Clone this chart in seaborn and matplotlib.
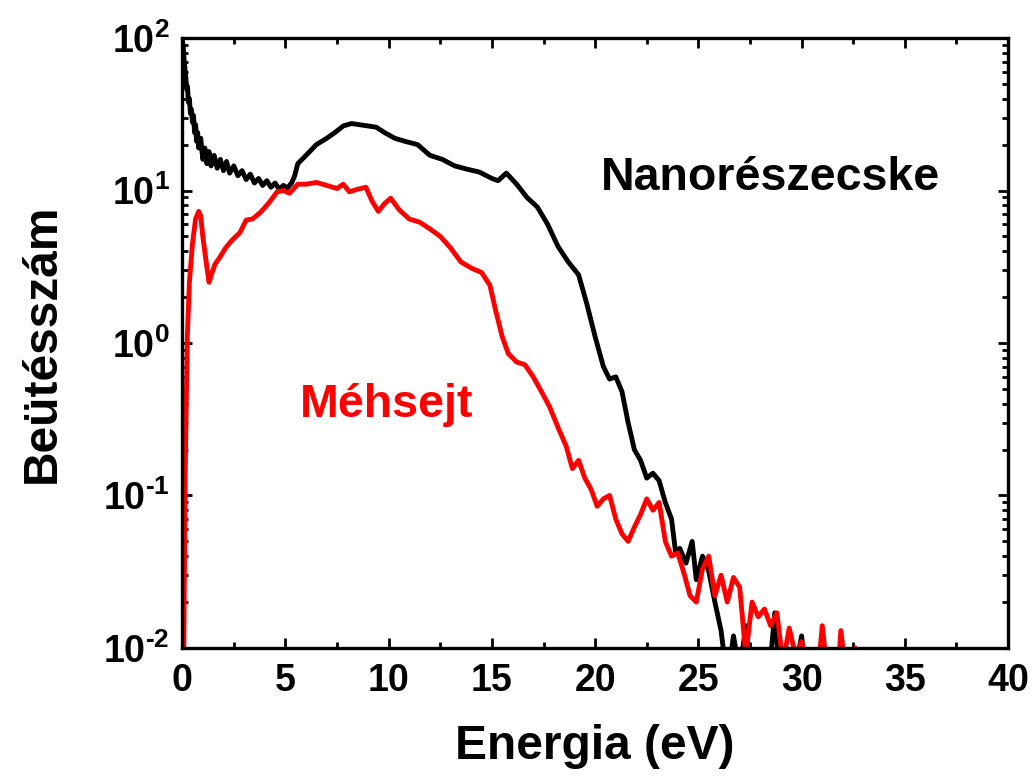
import numpy as np
import pandas as pd
import matplotlib
matplotlib.use("Agg")
import matplotlib.pyplot as plt
from matplotlib.ticker import LogLocator, FuncFormatter, MultipleLocator, NullFormatter
import seaborn as sns

# Energy spectrum of the nanoparticle sample (counts vs. energy in eV)
energy_nano = [0.02, 0.06, 0.1, 0.14, 0.18, 0.22, 0.26, 0.3, 0.35, 0.4, 0.45, 0.5,
               0.55, 0.6, 0.65, 0.7, 0.75, 0.8, 0.9, 1.0, 1.1, 1.2, 1.3, 1.4, 1.55,
               1.7, 1.85, 2.0, 2.15, 2.3, 2.5, 2.7, 2.9, 3.1, 3.3, 3.5, 3.7, 3.9, 4.1,
               4.3, 4.5, 4.7, 4.9, 5.1, 5.3, 5.45, 5.6, 6.0, 6.5, 7.0, 7.4, 7.8, 8.2,
               8.6, 9.0, 9.4, 9.8, 10.3, 10.8, 11.4, 12.0, 12.6, 13.2, 13.8, 14.4,
               15.0, 15.3, 15.7, 16.2, 16.7, 17.2, 17.7, 18.2, 18.7, 19.2, 19.6, 20.0,
               20.4, 20.7, 21.0, 21.3, 21.6, 21.9, 22.2, 22.5, 22.8, 23.1, 23.4, 23.7,
               23.9, 24.1, 24.4, 24.7, 24.9, 25.2, 25.5, 25.8, 26.1, 26.4, 26.7, 27.0,
               27.3, 27.6, 28.0, 28.4, 28.7, 29.0, 29.6, 30.0, 30.3, 30.6]
counts_nano = [95, 85, 70, 62, 55, 46, 48, 38, 40, 32, 34, 28,
               31, 24, 27, 21, 24, 19, 22, 16, 19, 15, 18, 14.5, 17,
               14, 16, 13.5, 15.5, 13, 14.5, 12.5, 13.5, 11.8, 12.8, 11.2, 12, 10.8, 11.6,
               10.5, 11.2, 10.2, 10.8, 10.4, 11.2, 12.5, 15, 17, 20, 22, 24, 26.5, 27.5,
               27, 26.5, 26, 24, 22, 21, 20, 17, 16, 14.5, 13.8, 13.2,
               12, 11.6, 13, 11, 9, 7.8, 6, 4.3, 3.4, 2.8, 1.8, 1.1,
               0.7, 0.58, 0.6, 0.48, 0.3, 0.2, 0.17, 0.13, 0.14, 0.125, 0.09, 0.07,
               0.042, 0.045, 0.036, 0.05, 0.028, 0.04, 0.032, 0.02, 0.013, 0.006, 0.012, 0.007,
               0.014, 0.006, 0.008, 0.006, 0.017, 0.005, 0.006, 0.012, 0.005, 0.004]

# Energy spectrum of the honeycomb sample
energy_honey = [0.0, 0.08, 0.15, 0.25, 0.35, 0.5, 0.65, 0.8, 0.9, 1.0, 1.15, 1.3, 1.45,
                1.6, 1.8, 2.1, 2.4, 2.8, 3.1, 3.4, 3.8, 4.2, 4.6, 4.9, 5.2, 5.6, 6.0,
                6.5, 7.0, 7.5, 7.8, 8.1, 8.5, 8.9, 9.2, 9.5, 9.8, 10.1, 10.5, 11.0,
                11.5, 12.0, 12.5, 13.0, 13.5, 14.0, 14.5, 14.9, 15.2, 15.5, 15.8, 16.2,
                16.6, 17.0, 17.4, 17.8, 18.2, 18.6, 18.9, 19.2, 19.5, 19.8, 20.1, 20.4,
                20.7, 21.0, 21.3, 21.6, 21.9, 22.2, 22.5, 22.8, 23.1, 23.4, 23.7, 24.0,
                24.3, 24.6, 24.9, 25.2, 25.5, 25.8, 26.1, 26.4, 26.7, 27.0, 27.3, 27.6,
                27.9, 28.2, 28.5, 28.8, 29.1, 29.4, 29.7, 30.0, 30.4, 30.8, 31.0, 31.3,
                31.7, 31.9, 32.2, 32.6, 33.0]
counts_honey = [0.008, 0.01, 0.15, 1.1, 2.5, 4.5, 6.5, 7.3, 6.8, 5, 3.5, 2.5, 2.9,
                3.3, 3.6, 4.2, 4.7, 5.3, 6.4, 6.5, 7.2, 8.3, 9.8, 10, 9.6, 11, 11,
                11.3, 10.8, 10.3, 11, 9.8, 10.2, 10.5, 8.5, 7.3, 8.2, 8.9, 7.5, 6.5,
                6.2, 5.6, 5.0, 4.2, 3.4, 3.1, 2.9, 2.4, 1.6, 1.1, 0.85, 0.75,
                0.72, 0.6, 0.48, 0.38, 0.28, 0.21, 0.15, 0.17, 0.13, 0.11, 0.085, 0.095,
                0.1, 0.07, 0.056, 0.05, 0.062, 0.075, 0.095, 0.08, 0.09, 0.05, 0.04, 0.042,
                0.031, 0.022, 0.02, 0.033, 0.04, 0.022, 0.03, 0.02, 0.029, 0.025, 0.009, 0.02,
                0.016, 0.018, 0.014, 0.017, 0.008, 0.0135, 0.009, 0.011, 0.007, 0.007, 0.014, 0.006,
                0.005, 0.013, 0.006, 0.01, 0.005]

x_ticks = [0, 5, 10, 15, 20, 25, 30, 35, 40]
label_nano = "Nanorészecske"
label_honey = "Méhsejt"
x_title = "Energia (eV)"
y_title = "Beütésszám"

sns.set_style("ticks")
plt.rcParams["font.family"] = ["Liberation Sans", "DejaVu Sans"]
plt.rcParams["font.weight"] = "bold"
plt.rcParams["mathtext.fontset"] = "custom"
plt.rcParams["mathtext.rm"] = "Liberation Sans:bold"
plt.rcParams["mathtext.bf"] = "Liberation Sans:bold"
plt.rcParams["mathtext.it"] = "Liberation Sans:bold"
for key in ("text.color", "axes.labelcolor", "xtick.color", "ytick.color", "axes.edgecolor"):
    plt.rcParams[key] = "black"

df_nano = pd.DataFrame({"E": energy_nano, "N": counts_nano})
df_honey = pd.DataFrame({"E": energy_honey, "N": counts_honey})

fig = plt.figure(figsize=(10.35, 7.76), dpi=100)
ax = fig.add_axes([0.176, 0.165, 0.798, 0.786])

sns.lineplot(data=df_nano, x="E", y="N", ax=ax, color="black", lw=3.5, sort=False)
sns.lineplot(data=df_honey, x="E", y="N", ax=ax, color="#ff0000", lw=3.5, sort=False)

ax.set_yscale("log")
ax.set_xlim(0, 40)
ax.set_ylim(1e-2, 1e2)


def decade_label(v, pos):
    exp = int(round(np.log10(v)))
    sign = r"\text{-}" if exp < 0 else ""
    return r"$\mathbf{10^{%s%d}}$" % (sign, abs(exp))


ax.set_xticks(x_ticks)
ax.set_xticklabels([str(t) for t in x_ticks])
ax.xaxis.set_minor_locator(MultipleLocator(2.5))
ax.yaxis.set_major_locator(LogLocator(base=10, numticks=10))
ax.yaxis.set_minor_locator(LogLocator(base=10, subs=np.arange(2, 10), numticks=20))
ax.yaxis.set_minor_formatter(NullFormatter())
ax.yaxis.set_major_formatter(FuncFormatter(decade_label))

ax.tick_params(which="both", direction="in", top=True, right=True, width=2.0, colors="black")
ax.tick_params(which="major", length=7.5)
ax.tick_params(which="minor", length=4)
ax.tick_params(axis="x", which="major", labelsize=27, pad=11)
ax.tick_params(axis="y", which="major", labelsize=27, pad=9)
for lab in ax.get_xticklabels() + ax.get_yticklabels():
    lab.set_fontweight("bold")
for sp in ax.spines.values():
    sp.set_linewidth(2.4)
    sp.set_color("black")

ax.set_xlabel(x_title, fontsize=34.5, fontweight="bold")
ax.xaxis.set_label_coords(0.5, -0.125)
ax.set_ylabel(y_title, fontsize=34.5, fontweight="bold")
ax.yaxis.set_label_coords(-0.142, 0.5)

ax.text(0.712, 0.751, label_nano, transform=ax.transAxes, fontsize=33.5,
        fontweight="bold", color="black", ha="center", va="baseline")
ax.text(0.247, 0.379, label_honey, transform=ax.transAxes, fontsize=33.5,
        fontweight="bold", color="#ff0000", ha="center", va="baseline")

fig.savefig("out.png", dpi=100)
